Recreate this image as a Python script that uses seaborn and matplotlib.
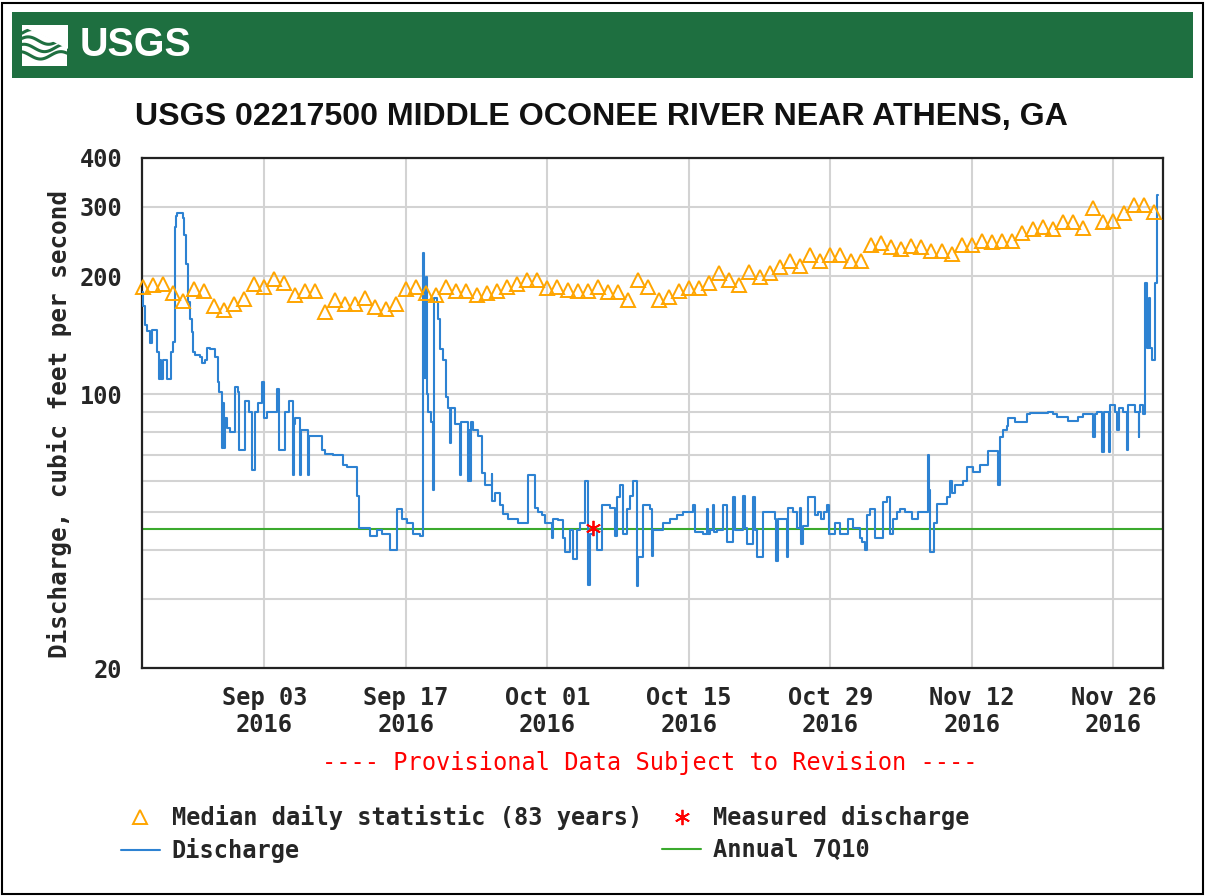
import numpy as np
import pandas as pd
import matplotlib
matplotlib.use("Agg")
import matplotlib.pyplot as plt
import matplotlib.dates as mdates
from matplotlib.lines import Line2D
from matplotlib.patches import Rectangle
from matplotlib.ticker import FixedLocator, FuncFormatter, NullFormatter
import seaborn as sns

site_title = "USGS 02217500 MIDDLE OCONEE RIVER NEAR ATHENS, GA"

# median daily statistic (83 years), one value per day starting 2016-08-22
median_start = "2016-08-22"
median_cfs = [
    187, 190, 191, 181, 173, 185, 183, 168, 164, 170,
    175, 191, 187, 197, 192, 179, 183, 183, 162, 174,
    170, 170, 176, 167, 165, 170, 185, 188, 181, 179,
    188, 183, 183, 179, 181, 183, 188, 191, 195, 195,
    186, 188, 184, 183, 183, 188, 182, 182, 174, 195,
    187, 174, 177, 183, 186, 186, 192, 203, 195, 190,
    205, 199, 204, 211, 218, 212, 226, 219, 226, 226,
    219, 219, 240, 243, 237, 234, 238, 237, 231, 231,
    228, 240, 240, 246, 244, 245, 245, 257, 264, 266,
    264, 274, 275, 265, 299, 275, 276, 290, 304, 304,
    291,
]

# instantaneous discharge, step breakpoints (days after q_start, cfs)
q_start = "2016-08-21 21:00"
q_day = [
    0.0, 0.1, 0.3, 0.5, 0.8, 1.0, 1.5, 1.74, 1.84, 1.94, 2.14, 2.53, 2.87, 3.13,
    3.29, 3.4, 3.46, 4.06, 4.21, 4.35, 4.61, 4.78, 4.95, 5.1, 5.27, 5.77, 6.0,
    6.26, 6.43, 6.76, 7.25, 7.58, 7.68, 7.92, 8.0, 8.1, 8.24, 8.47, 8.74, 9.23,
    9.5, 9.66, 10.22, 10.65, 10.88, 11.21, 11.54, 11.87, 12.1, 12.37, 13.36,
    13.61, 14.18, 14.6, 15.0, 15.08, 15.17, 15.66, 15.75, 16.48, 16.56, 17.81,
    18.14, 18.96, 19.95, 20.28, 21.27, 21.53, 22.59, 23.25, 23.75, 24.57, 25.23,
    25.72, 26.22, 26.87, 27.54, 27.78, 27.9, 28.08, 28.2, 28.33, 28.62, 28.82,
    28.92, 29.22, 29.32, 29.51, 29.8, 30.1, 30.3, 30.5, 30.6, 31.0, 31.5, 31.6,
    32.31, 32.4, 32.48, 32.6, 32.81, 33.3, 33.64, 33.97, 34.63, 34.7, 34.96,
    35.45, 35.78, 36.27, 37.26, 38.25, 38.91, 39.24, 39.58, 39.9, 40.57, 40.72,
    41.22, 41.71, 41.85, 42.38, 42.7, 43.04, 43.37, 43.86, 44.19, 44.36, 44.68,
    45.02, 45.51, 46.33, 46.83, 47.0, 47.32, 47.65, 47.99, 48.31, 48.64, 48.98,
    49.14, 49.63, 50.29, 50.45, 50.62, 51.61, 52.27, 52.93, 53.59, 54.58, 54.7,
    55.57, 55.9, 56.05, 56.23, 56.5, 56.6, 56.89, 57.54, 57.88, 58.53, 58.7,
    59.52, 59.65, 59.86, 60.51, 60.65, 60.85, 61.5, 62.66, 62.75, 62.99, 63.82,
    63.98, 64.47, 64.8, 65.13, 65.25, 65.46, 65.95, 66.62, 66.94, 67.2, 67.5,
    67.77, 68.03, 68.6, 69.09, 69.91, 70.35, 71.07, 71.3, 71.56, 71.79, 72.0,
    72.55, 73.38, 73.71, 74.04, 74.36, 74.7, 75.03, 75.52, 76.18, 76.84, 77.83,
    77.93, 78.0, 78.39, 78.66, 79.65, 79.98, 80.14, 80.47, 81.29, 81.63, 82.28,
    82.94, 83.76, 84.75, 84.92, 85.25, 85.58, 85.74, 86.41, 87.56, 87.89, 89.7,
    90.19, 90.53, 91.68, 92.67, 93.16, 94.15, 94.3, 94.49, 94.98, 95.15, 95.64,
    95.75, 95.8, 96.3, 96.45, 96.63, 97.12, 97.46, 97.6, 98.28, 98.61, 98.7,
    98.78, 99.1, 99.27, 99.4, 99.6, 99.75, 99.93, 100.26, 100.42, 100.55,
]
q_cfs = [
    182, 168, 150, 145, 135, 146, 128, 109, 122, 109, 122, 109, 128, 136,
    267, 285, 290, 282, 255, 215, 172, 155, 144, 128, 126, 124, 120,
    122, 131, 130, 124, 107, 101, 73, 95, 73, 87, 82, 80, 104,
    101, 72, 96, 90, 64, 90, 95, 107, 87, 90, 103,
    72, 90, 96, 62, 84, 87, 62, 81, 62, 78, 72,
    70.5, 70, 66, 65, 55, 45.5, 43.4, 45, 44, 40, 51,
    48, 47, 44, 43.4, 229, 110, 199, 100, 90, 85, 57,
    176, 172, 155, 130, 122, 98, 92, 75, 92, 84, 62, 85,
    60, 81, 60, 85, 81, 78, 63, 58.7, 62.5, 53.4, 56,
    52, 49.5, 48, 46.8, 62, 51.3, 50, 49, 47, 42.8, 48,
    47.6, 43, 39.5, 45, 38, 45, 46.8, 60, 32.5, 44, 45,
    40, 52, 51.3, 43.5, 54.7, 58.5, 44, 51, 55, 60, 32.4,
    38.5, 52, 51, 38.6, 45, 46.8, 48, 49, 50, 52, 44.5,
    44, 51, 44, 45, 52, 44.5, 45, 52, 42, 54.7, 45,
    55, 45.5, 41.5, 54.5, 45, 38.4, 50, 48, 37.6, 48, 38.4,
    51.3, 50, 45.5, 51.3, 41.5, 46, 54.7, 49, 50, 48, 50,
    52, 44, 46.8, 44, 48, 45.5, 43, 42, 40, 49, 51,
    43, 53, 54.5, 44, 48, 50, 51, 50, 48, 50, 70,
    57, 39.5, 47, 52.3, 54.7, 60, 56, 58.6, 60, 65, 63.3,
    66, 71.7, 58.6, 77.6, 81, 83, 87, 85, 89, 89.5, 90,
    89, 87.5, 85.5, 87.5, 89, 77.6, 89, 90, 71, 90, 71,
    90, 93.5, 90, 81, 92, 90, 72, 93.5, 90, 77.6, 90,
    93.5, 89, 192, 131, 176, 131, 122, 192, 322, 322,
]

measured_time = "2016-10-05 12:30"
measured_cfs = 45.6
q7_10 = 45.3

x_range = ["2016-08-21 21:00", "2016-11-30 21:00"]
tick_dates = ["2016-09-03", "2016-09-17", "2016-10-01", "2016-10-15",
              "2016-10-29", "2016-11-12", "2016-11-26"]
y_major = [20, 100, 200, 300, 400]
y_minor = [30, 40, 50, 60, 70, 80, 90]

legend_labels = ["Median daily statistic (83 years)", "Discharge",
                 "Measured discharge", "Annual 7Q10"]
provisional = "---- Provisional Data Subject to Revision ----"

# ---------------- style ----------------
sns.set_style("white")
mono = "DejaVu Sans Mono"
narrow = ["Liberation Sans Narrow", "Liberation Sans", "DejaVu Sans"]
plt.rcParams["font.family"] = [mono]
plt.rcParams["font.weight"] = "bold"

c_blue = "#2D82D2"
c_orange = "#FFA500"
c_green = "#3BAA2E"
c_red = "#FF0000"
c_band = "#1E6F40"

W, H = 1209, 896
fig = plt.figure(figsize=(W / 100, H / 100), dpi=100)
renderer = fig.canvas.get_renderer()


def fit_width(txt, target_px):
    # scale a text so that it spans roughly target_px pixels
    w = txt.get_window_extent(renderer=renderer).width
    txt.set_fontsize(txt.get_fontsize() * target_px / w)


# outer border and header band
fig.add_artist(Rectangle((2 / W, 2 / H), 1201 / W, 891 / H, transform=fig.transFigure,
                         fill=False, ec="black", lw=1.5))
fig.add_artist(Rectangle((12 / W, 1 - 78 / H), 1181 / W, 66 / H, transform=fig.transFigure,
                         fc=c_band, ec="none"))
logo_txt = fig.text(80 / W, 1 - 45 / H, "USGS", color="white", fontsize=34, weight="bold",
                    family=narrow, ha="left", va="center")
fit_width(logo_txt, 112)

# little wave emblem
lg = fig.add_axes([22 / W, 1 - 66 / H, 45 / W, 41 / H])
lg.set_zorder(3)
lg.set_xlim(0, 1)
lg.set_ylim(0, 1)
lg.axis("off")
lg.add_patch(Rectangle((0, 0), 1, 1, fc="white", ec="none"))
wx = np.linspace(0, 1, 60)
for k, off in enumerate([0.8, 0.62, 0.44, 0.26]):
    lg.plot(wx, off + 0.09 * np.sin(2 * np.pi * (wx * 1.1 + 0.1 * k)), color=c_band, lw=2.2)
lg.fill_between(wx, 1.0, 1.0 - 0.55 * wx, color="white", zorder=3)

title_txt = fig.text(601 / W, 1 - 125 / H, site_title, fontsize=27, weight="bold",
                     family=narrow, ha="center", va="baseline", color="#111111")
fit_width(title_txt, 935)

# ---------------- main axes ----------------
ax = fig.add_axes([141.7 / W, 1 - 668 / H, 1021 / W, 510 / H])

ax.axhline(q7_10, color=c_green, lw=1.5, zorder=2)

q = pd.DataFrame({"time": pd.Timestamp(q_start) + pd.to_timedelta(q_day, unit="D"),
                  "cfs": q_cfs})
sns.lineplot(data=q, x="time", y="cfs", ax=ax, color=c_blue, lw=1.5,
             drawstyle="steps-post", estimator=None, zorder=3)

med = pd.DataFrame({"date": pd.date_range(median_start, periods=len(median_cfs), freq="D"),
                    "cfs": median_cfs})
sns.lineplot(data=med, x="date", y="cfs", ax=ax, linestyle="none", marker="^",
             markersize=9.5, markerfacecolor="none", markeredgecolor=c_orange,
             markeredgewidth=1.4, estimator=None, zorder=4, clip_on=False)

ax.plot([pd.Timestamp(measured_time)], [measured_cfs], ls="none", marker=(6, 2, 0),
        ms=11, mew=1.3, color=c_red, zorder=5)

ax.set_yscale("log")
ax.set_ylim(y_major[0], y_major[-1])
ax.set_xlim(pd.Timestamp(x_range[0]), pd.Timestamp(x_range[1]))
ax.yaxis.set_major_locator(FixedLocator(y_major))
ax.yaxis.set_major_formatter(FuncFormatter(lambda v, p: f"{v:g}"))
ax.yaxis.set_minor_locator(FixedLocator(y_minor))
ax.yaxis.set_minor_formatter(NullFormatter())
ax.xaxis.set_major_locator(FixedLocator(mdates.date2num(pd.to_datetime(tick_dates))))
ax.xaxis.set_major_formatter(mdates.DateFormatter("%b %d\n%Y"))
ax.xaxis.set_minor_locator(FixedLocator([]))

ax.grid(True, which="both", color="#D3D3D3", lw=1.5, zorder=0)
ax.set_axisbelow(True)
ax.tick_params(which="both", length=0, labelsize=17)
ax.tick_params(axis="x", pad=13)
ax.tick_params(axis="y", pad=14)
for lab in ax.get_xticklabels():
    lab.set_linespacing(1.15)
for sp in ax.spines.values():
    sp.set_color("#222222")
    sp.set_linewidth(1.6)

ax.set_xlabel("")
ax.set_ylabel("Discharge, cubic feet per second", fontsize=17.5, weight="bold")
ax.yaxis.set_label_coords(-0.068, 0.478)

# ---------------- footer ----------------
fig.text(650 / W, 1 - 763 / H, provisional, color=c_red, fontsize=17, weight="normal",
         ha="center", va="center")

handles = [
    Line2D([], [], ls="none", marker="^", ms=9.5, mfc="none", mec=c_orange, mew=1.4),
    Line2D([], [], color=c_blue, lw=1.5),
    Line2D([], [], ls="none", marker=(6, 2, 0), ms=11, mew=1.3, color=c_red),
    Line2D([], [], color=c_green, lw=1.5),
]
fig.legend(handles, legend_labels, ncol=2, loc="upper left",
           bbox_to_anchor=(121 / W, 1 - 805 / H), frameon=False,
           prop={"family": mono, "size": 17, "weight": "bold"},
           handlelength=1.65, handletextpad=0.5, columnspacing=0.85,
           labelspacing=0.35, borderpad=0, borderaxespad=0)

fig.savefig("out.png", dpi=100)
